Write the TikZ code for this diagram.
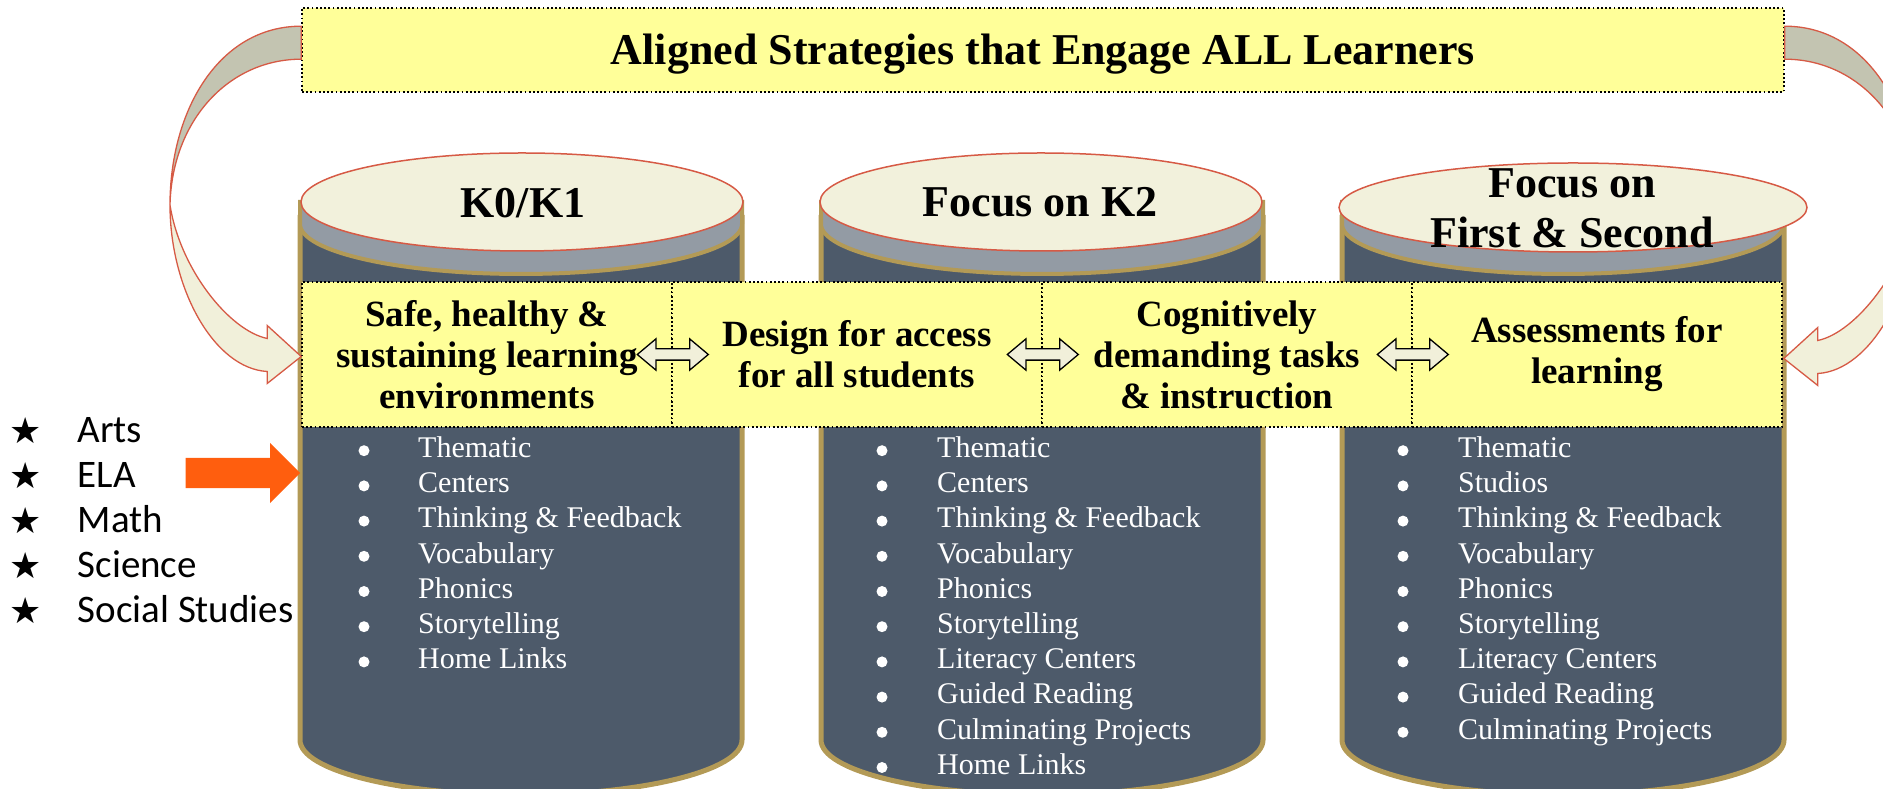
\documentclass[tikz,border=0pt]{standalone}
\usepackage{fontspec}
\setmainfont{Liberation Serif}
\newfontfamily\subjfont{Carlito}
\newfontfamily\starfont{DejaVu Sans}
\usetikzlibrary{calc,shapes.arrows}
\definecolor{bandyellow}{HTML}{FFFF99}
\definecolor{capcream}{HTML}{F2F1DC}
\definecolor{rimgray}{HTML}{939BA4}
\definecolor{slate}{HTML}{4D5A6A}
\definecolor{gold}{HTML}{B39A56}
\definecolor{rimred}{HTML}{D65A45}
\definecolor{backgray}{HTML}{C3C4B1}
\definecolor{arrowcream}{HTML}{F1F0DA}
\definecolor{hot}{HTML}{FF5E0E}

\begin{document}
\begin{tikzpicture}[x=1pt,y=1pt,
	dotline/.style={dash pattern=on 1.8pt off 2.4pt},
	box/.style={draw,dotline,line width=1.6,fill=bandyellow,inner sep=0},
	cell/.style={box,minimum width=370,minimum height=145,align=center,font=\fontsize{37}{41}\selectfont\bfseries},
	bigtxt/.style={anchor=base,inner sep=0,font=\fontsize{44}{50}\selectfont\bfseries},
	item/.style={anchor=base west,inner sep=0,text=white,font=\fontsize{30}{35}\selectfont},
	dbl/.style={double arrow,draw,line width=1.3,fill=arrowcream,minimum height=71,double arrow head extend=10,double arrow tip angle=80,inner sep=0},
	curl/.style={draw=rimred,line width=1.3}]
	\path[use as bounding box] (0,0) rectangle (1883,789);
	\clip (0,0) rectangle (1883,789);
	% title
	\node[box,minimum width=1482,minimum height=84] (title) at (1043,739) {};
	\node[bigtxt] (ttl) at (1043,724) {Aligned Strategies that Engage ALL Learners};
	% cylinders
	\foreach \c/\e/\r/\ey/\ry in {521/522/221/587/49,1042/1041/221/587/49,1563/1573/234/581.5/44.5}{
		\filldraw[fill=slate,draw=gold,line width=5] (\c-221,574) -- (\c-221,49)
		arc[start angle=180,end angle=360,x radius=221,y radius=55] -- (\c+221,574);
		\filldraw[fill=rimgray,draw=gold,line width=4] (\c-221,587) -- (\c-221,565)
		arc[start angle=180,end angle=360,x radius=221,y radius=50] -- (\c+221,587) -- cycle;
		\filldraw[fill=capcream,draw=rimred,line width=1.5] (\e,\ey) ellipse[x radius=\r,y radius=\ry];
	}
	\node[bigtxt] (k01) at (523,571) {K0/K1};
	\node[bigtxt] (k2) at (1040,572) {Focus on K2};
	\node[bigtxt] (fs1) at (1572,591) {Focus on};
	\node[bigtxt] (fs2) at (1572,541) {First \& Second};
	% strategies
	\node[cell] (c1) at (487,434.5) {Safe, healthy \&\\sustaining learning\\environments};
	\node[cell] (c2) at (857,434.5) {Design for access\\for all students};
	\node[cell] (c3) at (1227,434.5) {Cognitively\\demanding tasks\\\& instruction};
	\node[cell] (c4) at (1597,434.5) {Assessments for\\learning};
	\foreach \a/\b in {c1/c2,c2/c3,c3/c4}
		\node[dbl] (\a\b) at (\a.east) {\rule{0pt}{10pt}};
	% lists
	\foreach \t [count=\i from 0] in {Thematic,Centers,Thinking \& Feedback,Vocabulary,Phonics,Storytelling,Home Links}{
		\fill[white] (364,338.3-35.2*\i) circle (5.5);
		\node[item] (a\i) at (418,331.5-35.2*\i) {\t};
	}
	\foreach \t [count=\i from 0] in {Thematic,Centers,Thinking \& Feedback,Vocabulary,Phonics,Storytelling,Literacy Centers,Guided Reading,Culminating Projects,Home Links}{
		\fill[white] (882,338.3-35.2*\i) circle (5.5);
		\node[item] (b\i) at (937,331.5-35.2*\i) {\t};
	}
	\foreach \t [count=\i from 0] in {Thematic,Studios,Thinking \& Feedback,Vocabulary,Phonics,Storytelling,Literacy Centers,Guided Reading,Culminating Projects}{
		\fill[white] (1403,338.3-35.2*\i) circle (5.5);
		\node[item] (r\i) at (1458,331.5-35.2*\i) {\t};
	}
	% subjects
	\foreach \t [count=\i from 0] in {Arts,ELA,Math,Science,Social Studies}{
		\node[anchor=base,inner sep=0,font=\starfont\fontsize{36}{36}\selectfont] (st\i) at (26,345-44.8*\i) {★};
		\node[anchor=base west,inner sep=0,font=\subjfont\fontsize{39}{44}\selectfont] (sb\i) at (77.5,346-44.8*\i) {\t};
	}
	\coordinate (otip) at (300.5,316);
	\node[single arrow,fill=hot,minimum height=114.5,single arrow head extend=15,inner sep=0,anchor=tip] (oarr) at (otip) {\rule{0pt}{30pt}};
	% curved arrows
	\coordinate (lt) at ($(title.north west)+(0,-19)$);
	\coordinate (lb) at ($(title.north west)+(0,-52)$);
	\coordinate (lm) at (170,584);
	\coordinate (ltip) at ($(c1.west)+(0,-2)$);
	\filldraw[curl,fill=backgray] (lt) .. controls +(-82,0) and +(0,95) .. (lm) .. controls +(2,85) and +(-72,0) .. (lb) -- cycle;
	\filldraw[curl,fill=arrowcream] (lm) .. controls +(0,-84) and +(-53,3) .. ($(ltip)+(-34,-15)$) -- ($(ltip)+(-34,-27)$) -- (ltip)
		-- ($(ltip)+(-34,31)$) -- ($(ltip)+(-34,18)$) .. controls +(-38,8) and +(10,-64) .. (lm) -- cycle;
	\coordinate (rt) at ($(title.north east)+(0,-19)$);
	\coordinate (rb) at ($(title.north east)+(0,-52)$);
	\coordinate (rm) at (1916,584);
	\coordinate (rtip) at ($(c4.east)+(1,-4)$);
	\filldraw[curl,fill=backgray] (rt) .. controls +(82,0) and +(0,95) .. (rm) .. controls +(-2,85) and +(72,0) .. (rb) -- cycle;
	\filldraw[curl,fill=arrowcream] (rm) .. controls +(0,-84) and +(53,3) .. ($(rtip)+(34,-15)$) -- ($(rtip)+(34,-27)$) -- (rtip)
		-- ($(rtip)+(34,31)$) -- ($(rtip)+(34,18)$) .. controls +(38,8) and +(-10,-64) .. (rm) -- cycle;
\end{tikzpicture}
\end{document}
